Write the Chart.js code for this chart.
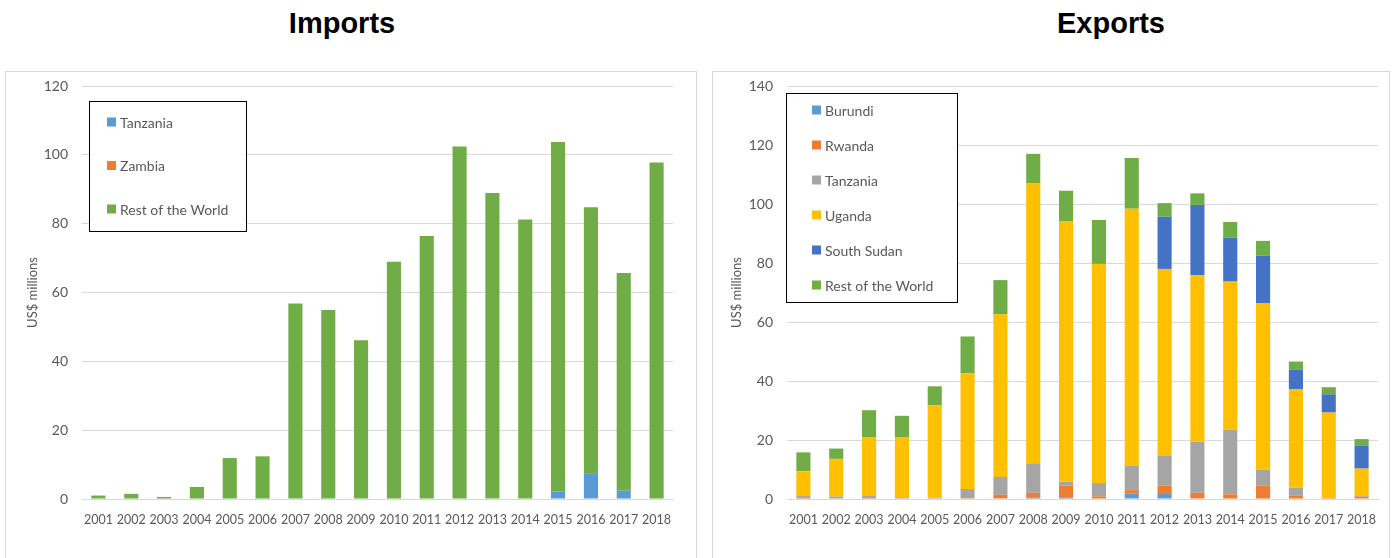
<!DOCTYPE html>
<html>
<head>
<meta charset="utf-8">
<script src="https://cdn.jsdelivr.net/npm/chart.js@4.4.1/dist/chart.umd.min.js"></script>
<style>
  body { margin: 0; background: #fff; width: 1392px; height: 558px; position: relative; overflow: hidden; font-family: Lato, sans-serif; }
  .title { position: absolute; top: 7px; font: bold 29px "Liberation Sans", Arial, sans-serif; color: #000; text-align: center; width: 300px; }
  .box { position: absolute; top: 71px; height: 500px; border: 1px solid #d9d9d9; box-sizing: border-box; }
  .box canvas { position: absolute; left: 0; top: 0; }
</style>
</head>
<body>
<div class="title" style="left:192px">Imports</div>
<div class="title" style="left:961px">Exports</div>
<div class="box" style="left:5px;width:692px"><canvas id="imports"></canvas></div>
<div class="box" style="left:712px;width:678px"><canvas id="exports"></canvas></div>
<script>
const years = ["2001","2002","2003","2004","2005","2006","2007","2008","2009","2010","2011","2012","2013","2014","2015","2016","2017","2018"];

// Imports (US$ millions)
const impTanzania = [0,0,0,0,0,0,0,0,0,0,0,0,0,0,2.2,7.5,2.4,0];
const impZambia   = [0,0,0,0,0,0,0,0,0,0,0,0,0,0,0,0,0,0];
const impRest     = [1.0,1.5,0.6,3.5,11.9,12.4,56.8,54.9,46.1,68.9,76.4,102.4,88.9,81.2,101.5,77.3,63.3,97.8];

// Exports (US$ millions)
const expBurundi    = [0,0,0,0,0,0,0.2,0.6,0.6,0,1.8,2.0,0.2,0,0,0,0,0];
const expRwanda     = [0.6,0,0.3,0,0,0.3,1.2,1.5,3.9,0.9,1.2,2.5,1.9,1.6,4.5,1.1,0.5,0.8];
const expTanzania   = [0.4,0.8,0.7,0.6,0.5,3.1,6.1,9.8,1.4,4.5,8.3,10.2,17.3,21.9,5.4,2.7,0,0.2];
const expUganda     = [8.4,12.8,20.0,20.4,31.3,39.2,55.1,95.2,88.3,74.3,87.1,63.3,56.5,50.2,56.5,33.5,28.8,9.3];
const expSouthSudan = [0,0,0,0,0,0,0,0,0,0,0,17.7,23.8,14.9,16.1,6.6,6.2,7.7];
const expRest       = [6.4,3.5,9.1,7.2,6.4,12.5,11.6,9.9,10.3,14.9,17.2,4.6,3.9,5.3,5.0,2.7,2.4,2.3];

const BLUE = '#5B9BD5', ORANGE = '#ED7D31', GRAY = '#A5A5A5', GOLD = '#FFC000', DARKBLUE = '#4472C4', GREEN = '#70AD47';
const TEXT = '#595959';

// legend drawn inside the plot, Excel style
const boxLegend = {
  id: 'boxLegend',
  afterDraw(chart, args, opts) {
    const c = chart.ctx;
    c.save();
    c.fillStyle = '#fff';
    c.fillRect(opts.x, opts.y, opts.w, opts.h);
    c.strokeStyle = '#000';
    c.lineWidth = 1;
    c.strokeRect(opts.x + 0.5, opts.y + 0.5, opts.w, opts.h);
    c.font = '14px Lato, sans-serif';
    c.textBaseline = 'middle';
    chart.data.datasets.forEach((ds, i) => {
      const cy = opts.firstY + i * opts.step;
      c.fillStyle = ds.backgroundColor;
      c.fillRect(opts.markX, cy - 4.5, 9, 9);
      c.fillStyle = TEXT;
      c.fillText(ds.label, opts.markX + 13, cy + 1);
    });
    c.restore();
  }
};

function makeChart(id, width, datasets, cfg) {
  const canvas = document.getElementById(id);
  canvas.width = width;
  canvas.height = 487;
  return new Chart(canvas, {
    type: 'bar',
    data: { labels: years, datasets: datasets },
    options: {
      responsive: false,
      animation: false,
      layout: { padding: { top: 14, right: cfg.right, bottom: 20, left: 0 } },
      plugins: {
        legend: { display: false },
        tooltip: { enabled: false },
        boxLegend: cfg.legend
      },
      datasets: { bar: { barPercentage: 0.43, categoryPercentage: 1.0 } },
      scales: {
        x: {
          stacked: true,
          grid: { display: false },
          border: { color: '#d9d9d9' },
          ticks: { color: TEXT, font: { family: 'Lato', size: 12.5 }, padding: 5, maxRotation: 0, autoSkip: false },
          afterFit(s) { s.height = 40; }
        },
        y: {
          stacked: true,
          min: 0,
          max: cfg.max,
          ticks: { stepSize: 20, color: TEXT, font: { family: 'Lato', size: 14 }, padding: cfg.tickPad },
          grid: { color: '#d9d9d9', drawTicks: false },
          border: { display: false },
          title: { display: true, text: 'US$ millions', color: TEXT, font: { family: 'Lato', size: 13 }, padding: { top: cfg.titlePad, bottom: 0 } },
          afterFit(s) { s.width = cfg.axisW; s.paddingTop = 8; s.paddingBottom = 8; }
        }
      }
    },
    plugins: [boxLegend]
  });
}

makeChart('imports', 692, [
  { label: 'Tanzania', data: impTanzania, backgroundColor: BLUE },
  { label: 'Zambia', data: impZambia, backgroundColor: ORANGE },
  { label: 'Rest of the World', data: impRest, backgroundColor: GREEN }
], { max: 120, right: 25, axisW: 76, tickPad: 14, titlePad: 19,
     legend: { x: 83, y: 29, w: 157, h: 130, markX: 101, firstY: 50, step: 43.5 } });

makeChart('exports', 678, [
  { label: 'Burundi', data: expBurundi, backgroundColor: BLUE },
  { label: 'Rwanda', data: expRwanda, backgroundColor: ORANGE },
  { label: 'Tanzania', data: expTanzania, backgroundColor: GRAY },
  { label: 'Uganda', data: expUganda, backgroundColor: GOLD },
  { label: 'South Sudan', data: expSouthSudan, backgroundColor: DARKBLUE },
  { label: 'Rest of the World', data: expRest, backgroundColor: GREEN }
], { max: 140, right: 13, axisW: 74, tickPad: 14, titlePad: 16,
     legend: { x: 73, y: 21, w: 171, h: 209, markX: 99, firstY: 38, step: 35 } });
</script>
</body>
</html>
